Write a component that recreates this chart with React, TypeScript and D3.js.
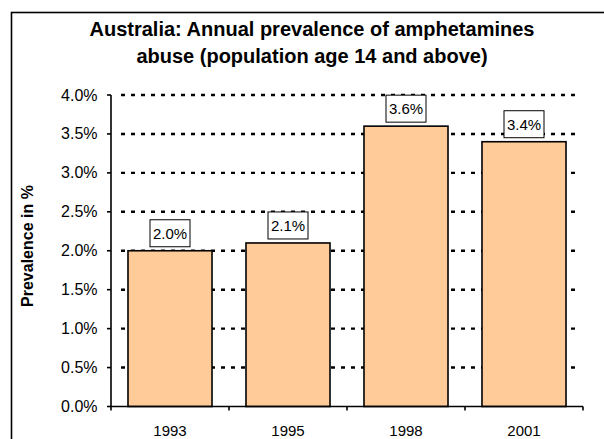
import React from "react";
import * as d3 from "d3";

const categories: string[] = ["1993", "1995", "1998", "2001"];
const values: number[] = [0.02, 0.021, 0.036, 0.034];
const valueLabels: string[] = ["2.0%", "2.1%", "3.6%", "3.4%"];
const yTicks: number[] = [0, 0.005, 0.01, 0.015, 0.02, 0.025, 0.03, 0.035, 0.04];
const titleLines: string[] = [
  "Australia: Annual prevalence of amphetamines",
  "abuse (population age 14 and above)",
];
const yAxisTitle = "Prevalence in %";

const W = 604;
const H = 439;
const plotLeft = 111;
const plotRight = 583;
const plotTop = 95;
const plotBottom = 406.5;
const FONT = "'Liberation Sans', Arial, Helvetica, sans-serif";

export default function App() {
  const x = d3
    .scaleBand<string>()
    .domain(categories)
    .range([plotLeft, plotRight])
    .paddingInner(0.288)
    .paddingOuter(0.144);
  const y = d3.scaleLinear().domain([0, 0.04]).range([plotBottom, plotTop]);
  const step = x.step();
  const fmt = d3.format(".1%");
  const boundaries = d3.range(categories.length + 1).map((i) => plotLeft + i * step);

  return (
    <svg
      width={W}
      height={H}
      style={{ position: "absolute", left: 0, top: 0, background: "#fff" }}
      fontFamily={FONT}
    >
      <rect x={0} y={0} width={W} height={H} fill="#fff" />
      {/* outer frame */}
      <rect x={11.5} y={12.5} width={620} height={460} fill="none" stroke="#000" strokeWidth={1.6} />

      {/* title */}
      {titleLines.map((t, i) => (
        <text
          key={i}
          x={312}
          y={36 + i * 26.5}
          textAnchor="middle"
          fontSize={20}
          fontWeight="bold"
          fill="#000"
        >
          {t}
        </text>
      ))}

      {/* gridlines */}
      {yTicks
        .filter((t) => t > 0)
        .map((t) => (
          <line
            key={"g" + t}
            x1={plotLeft + 10}
            x2={plotRight - 4}
            y1={y(t)}
            y2={y(t)}
            stroke="#000"
            strokeWidth={2.4}
            strokeDasharray="4 6"
          />
        ))}

      {/* bars */}
      {categories.map((c, i) => (
        <rect
          key={"b" + c}
          x={x(c)}
          y={y(values[i])}
          width={x.bandwidth()}
          height={plotBottom - y(values[i])}
          fill="#FFCC99"
          stroke="#000"
          strokeWidth={1.6}
        />
      ))}

      {/* data labels */}
      {categories.map((c, i) => {
        const cx = (x(c) as number) + x.bandwidth() / 2;
        const top = y(values[i]);
        return (
          <g key={"l" + c}>
            <rect
              x={cx - 20}
              y={top - 31}
              width={40}
              height={27}
              fill="#fff"
              stroke="#000"
              strokeWidth={1}
            />
            <text x={cx} y={top - 12} textAnchor="middle" fontSize={15} fill="#000">
              {valueLabels[i]}
            </text>
          </g>
        );
      })}

      {/* y axis */}
      <line x1={plotLeft} x2={plotLeft} y1={plotTop} y2={plotBottom} stroke="#000" strokeWidth={1.6} />
      {yTicks.map((t) => (
        <g key={"yt" + t}>
          <line x1={plotLeft - 4} x2={plotLeft} y1={y(t)} y2={y(t)} stroke="#000" strokeWidth={1.6} />
          <text x={97.5} y={y(t) + 5.5} textAnchor="end" fontSize={16} fill="#000">
            {fmt(t)}
          </text>
        </g>
      ))}

      {/* x axis */}
      <line x1={plotLeft} x2={plotRight} y1={plotBottom} y2={plotBottom} stroke="#000" strokeWidth={1.6} />
      {boundaries.map((b, i) => (
        <line key={"xt" + i} x1={b} x2={b} y1={plotBottom} y2={plotBottom + 4} stroke="#000" strokeWidth={1.6} />
      ))}
      {categories.map((c) => (
        <text
          key={"xl" + c}
          x={(x(c) as number) + x.bandwidth() / 2}
          y={435.5}
          textAnchor="middle"
          fontSize={15}
          fill="#000"
        >
          {c}
        </text>
      ))}

      {/* y axis title */}
      <text
        transform={`translate(33.3, 246) rotate(-90)`}
        textAnchor="middle"
        fontSize={16}
        fontWeight="bold"
        fill="#000"
      >
        {yAxisTitle}
      </text>
    </svg>
  );
}
